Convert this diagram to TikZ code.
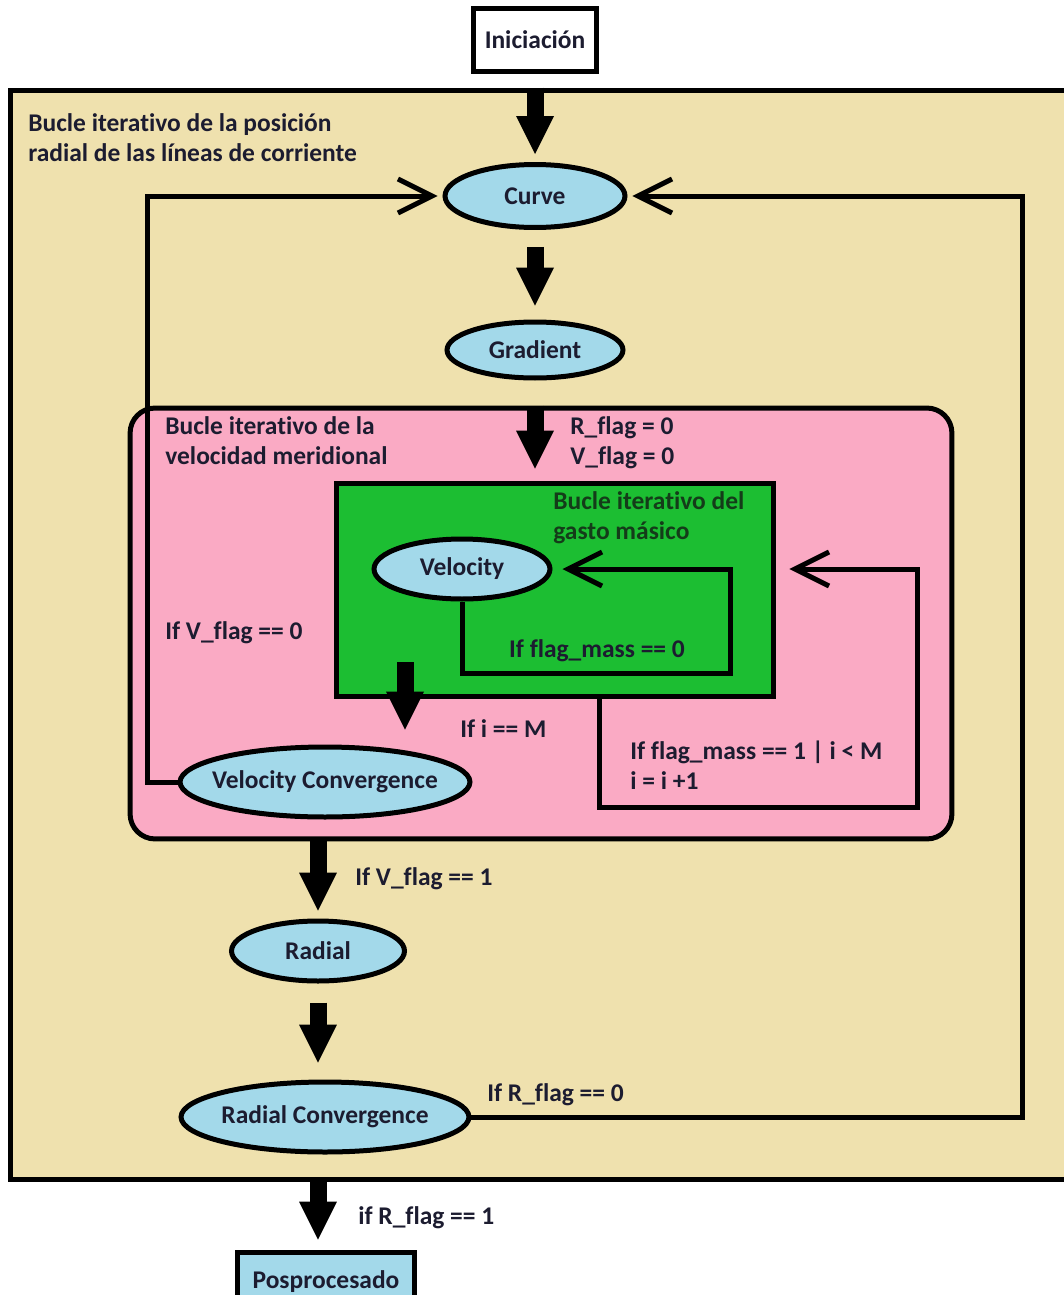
\documentclass[tikz,border=0pt]{standalone}
\usepackage{fontspec}
\setmainfont{Carlito}[Ligatures={NoCommon,NoRare,NoContextual}]
\usetikzlibrary{arrows.meta,shapes.geometric}
\definecolor{beige}{RGB}{239,225,174}
\definecolor{pinkbg}{RGB}{250,170,196}
\definecolor{greenbg}{RGB}{28,190,50}
\definecolor{bluefill}{RGB}{163,217,234}
\definecolor{ink}{RGB}{28,28,48}
\definecolor{greenink}{RGB}{20,60,25}
\begin{document}
\begin{tikzpicture}[
    x=0.02cm, y=-0.02cm,
    every node/.style={font=\fontsize{14.5}{17}\selectfont\bfseries, text=ink},
    proc/.style={draw, ellipse, line width=0.1cm, fill=bluefill, inner xsep=-1cm, inner ysep=0pt},
    term/.style={draw, rectangle, line width=0.1cm, inner sep=0pt},
    region/.style={draw, rectangle, line width=0.1cm, inner sep=0pt},
    lbl/.style={align=left, inner sep=0pt},
    fat/.style={line width=0.34cm, -{Triangle[length=0.76cm, width=0.76cm, line width=0pt]}},
    back/.style={line width=0.1cm, -{Straight Barb[length=0.68cm, width=0.68cm]}}
]
    \fill[white] (0,0) rectangle (1064,1295);
    \useasboundingbox (0,0) rectangle (1064,1295);

    % loops
    \node[region, fill=beige, minimum width=21.4cm, minimum height=21.8cm] (radloop) at (545,635) {};
    \node[region, fill=pinkbg, rounded corners=0.5cm, minimum width=16.44cm, minimum height=8.62cm] (velloop) at (541,623.5) {};
    \node[region, fill=greenbg, minimum width=8.76cm, minimum height=4.28cm] (massloop) at (555,590) {};

    % steps
    \node[term, fill=white, minimum width=2.46cm, minimum height=1.26cm] (ini) at (535,40) {Iniciación};
    \node[proc, minimum width=3.6cm, minimum height=1.26cm] (curve) at (535,196) {Curve};
    \node[proc, minimum width=3.52cm, minimum height=1.12cm] (gradient) at (535,350) {Gradient};
    \node[proc, minimum width=3.52cm, minimum height=1.2cm] (velocity) at (462,569) {Velocity};
    \node[proc, minimum width=5.8cm, minimum height=1.4cm] (velconv) at (325,782) {Velocity Convergence};
    \node[proc, minimum width=3.46cm, minimum height=1.2cm] (radial) at (318,951) {Radial};
    \node[proc, minimum width=5.76cm, minimum height=1.4cm] (radconv) at (325,1117) {Radial Convergence};
    \node[term, fill=bluefill, minimum width=3.56cm, minimum height=1.2cm] (post) at (326,1282) {Posprocesado};

    % main flow
    \coordinate (vstart) at (405,662);
    \draw[fat, shorten >=0.16cm] (radloop.north -| curve) -- (curve.north);
    \draw[fat, shorten <=0.34cm, shorten >=0.28cm] (curve.south) -- (gradient.north);
    \draw[fat, shorten >=0.24cm] (velloop.north -| gradient) -- (massloop.north -| gradient);
    \draw[fat, shorten >=0.3cm] (vstart) -- (vstart |- velconv.north);
    \draw[fat, shorten >=0.16cm] (velloop.south -| radial) -- (radial.north);
    \draw[fat, shorten <=0.38cm, shorten >=0.34cm] (radial.south) -- (radial.south |- radconv.north);
    \draw[fat, shorten >=0.2cm] (radloop.south -| radial) -- (radial |- post.north);

    % feedback
    \draw[back, shorten >=0.2cm] (velocity.south) |- ++(268,72) |- (velocity.east);
    \draw[back, shorten >=0.26cm] ([xshift=0.9cm]massloop.south) |- ++(317,108) |- (massloop.east |- velocity.east);
    \draw[back, shorten >=0.1cm] (velconv.west) -- ++(-30,0) |- (curve.west);
    \draw[back, shorten >=0.1cm] (radconv.east) -- ++(551,0) |- (curve.east);

    % labels
    \node[lbl, anchor=north west] (t1) at (28,113) {Bucle iterativo de la posición\\radial de las líneas de corriente};
    \node[lbl, anchor=north west] (t2) at (165,416) {Bucle iterativo de la\\velocidad meridional};
    \node[lbl, anchor=north west] (t3) at (570,416) {R\_flag = 0\\V\_flag = 0};
    \node[lbl, anchor=north west, text=greenink] (t4) at (553,491) {Bucle iterativo del\\gasto másico};
    \node[lbl] (c1) at (597,651) {If flag\_mass == 0};
    \node[lbl, anchor=west] (c2) at (460,729) {If i == M};
    \node[lbl, anchor=north west] (c3) at (630,741) {If flag\_mass == 1 | i < M\\i = i +1};
    \node[lbl, anchor=west] (c4) at (165,633) {If V\_flag == 0};
    \node[lbl, anchor=west] (c5) at (355,879) {If V\_flag == 1};
    \node[lbl, anchor=west] (c6) at (487,1095) {If R\_flag == 0};
    \node[lbl, anchor=west] (c7) at (358,1218) {if R\_flag == 1};
\end{tikzpicture}
\end{document}
